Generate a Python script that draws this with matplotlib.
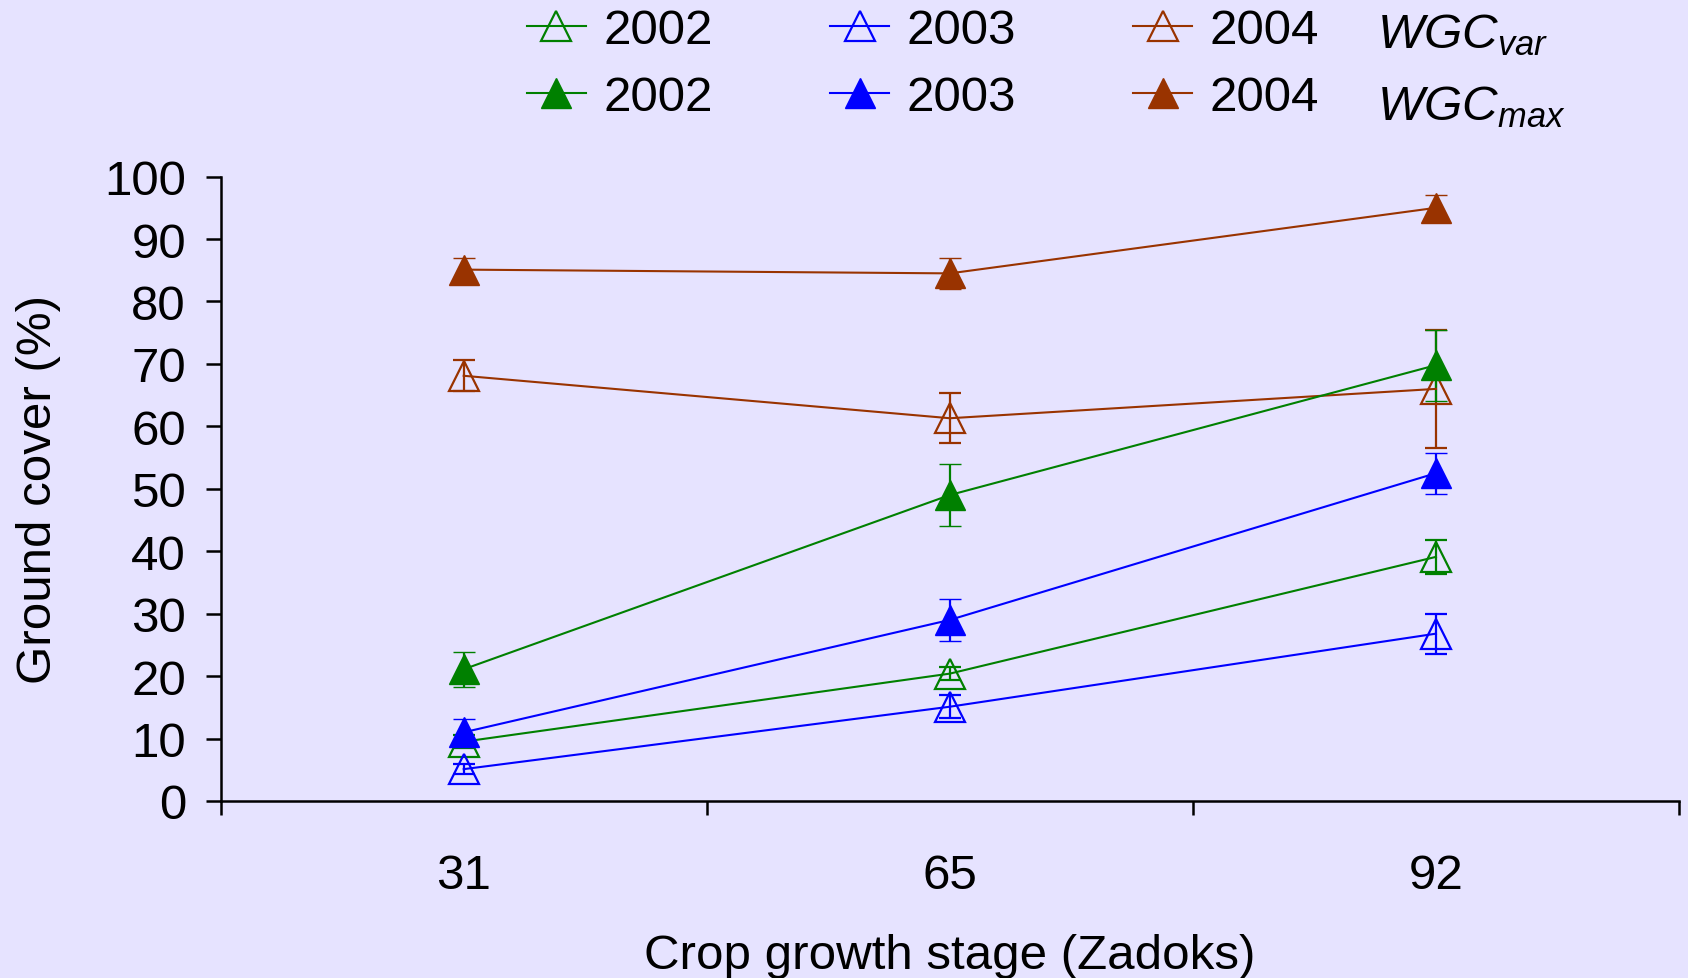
import matplotlib
matplotlib.use("Agg")
import matplotlib.pyplot as plt
from matplotlib.lines import Line2D

plt.rcParams['font.family'] = ['Liberation Sans', 'DejaVu Sans']
plt.rcParams['mathtext.fontset'] = 'custom'
plt.rcParams['mathtext.it'] = 'Liberation Sans:italic'
plt.rcParams['mathtext.rm'] = 'Liberation Sans'

# ---- data ----
stages = ['31', '65', '92']
years = ['2002', '2003', '2004']
colors = ['#008000', '#0000FF', '#993300']

var_2002 = [9.5, 20.4, 39.1]
var_2003 = [5.1, 15.1, 26.8]
var_2004 = [68.1, 61.3, 66.0]
max_2002 = [21.1, 49.0, 69.8]
max_2003 = [11.0, 29.0, 52.5]
max_2004 = [85.1, 84.5, 95.0]

err_var_2002 = [1.0, 1.0, 2.7]
err_var_2003 = [0.8, 1.8, 3.2]
err_var_2004 = [2.5, 4.0, 9.5]
err_max_2002 = [2.8, 5.0, 5.7]
err_max_2003 = [2.2, 3.3, 3.3]
err_max_2004 = [1.8, 2.5, 2.0]

yticks = [0, 10, 20, 30, 40, 50, 60, 70, 80, 90, 100]

BG = '#E6E3FF'
FS = 35.5

fig = plt.figure(figsize=(16.88, 9.79), dpi=100, facecolor=BG)
ax = fig.add_axes([0.1307, 0.1808, 0.864, 0.6378])
ax.set_facecolor(BG)

x = list(range(len(stages)))
ms = 21
lw = 1.5

var_series = [(var_2002, err_var_2002), (var_2003, err_var_2003), (var_2004, err_var_2004)]
max_series = [(max_2002, err_max_2002), (max_2003, err_max_2003), (max_2004, err_max_2004)]

for (vals, errs), c in zip(var_series, colors):
    ax.errorbar(x, vals, yerr=errs, color=c, lw=lw, marker='^', ms=ms,
                mfc='none', mec=c, mew=1.6, ecolor=c, elinewidth=1.6,
                capsize=8, capthick=1.6, clip_on=False)
for (vals, errs), c in zip(max_series, colors):
    ax.errorbar(x, vals, yerr=errs, color=c, lw=lw, marker='^', ms=ms,
                mfc=c, mec=c, mew=1.0, ecolor=c, elinewidth=1.6,
                capsize=8, capthick=1.6, clip_on=False)

ax.set_xlim(-0.5, 2.5)
ax.set_ylim(0, 100)
ax.set_yticks(yticks)
ax.set_yticklabels([str(v) for v in yticks], fontsize=FS)
ax.set_xticks([-0.5, 0.5, 1.5, 2.5])
ax.set_xticklabels([])
ax.set_xticks(x, minor=True)
ax.set_xticklabels(stages, minor=True, fontsize=FS)
ax.tick_params(axis='x', which='major', direction='out', length=10, width=1.8, color='black')
ax.tick_params(axis='x', which='minor', length=0, pad=37.5)
ax.tick_params(axis='y', direction='out', length=11, width=1.8, pad=14)

for s in ['top', 'right']:
    ax.spines[s].set_visible(False)
for s in ['left', 'bottom']:
    ax.spines[s].set_linewidth(1.8)
    ax.spines[s].set_color('black')

ax.set_xlabel('Crop growth stage (Zadoks)', fontsize=FS)
ax.xaxis.label.set_va('center')
ax.xaxis.set_label_coords(0.5, -0.247)
ax.set_ylabel('Ground cover (%)', fontsize=FS)
ax.yaxis.label.set_va('center')
ax.yaxis.set_label_coords(-0.125, 0.5)

# legend
handles = []
labels = []
for c, y in zip(colors, years):
    handles.append(Line2D([], [], color=c, lw=lw, marker='^', ms=ms, mfc='none', mec=c, mew=1.6))
    labels.append(y)
    handles.append(Line2D([], [], color=c, lw=lw, marker='^', ms=ms, mfc=c, mec=c, mew=1.0))
    labels.append(y)
leg = fig.legend(handles, labels, ncol=3, loc='upper left', bbox_to_anchor=(0.312, 0.991),
                 frameon=False, fontsize=FS, handlelength=1.2, handletextpad=0.35,
                 columnspacing=2.38, labelspacing=0.46, borderpad=0, borderaxespad=0)

fig.text(0.8158, 0.9507, r'$\mathit{WGC}_{\mathit{var}}$', fontsize=FS, va='baseline', ha='left')
fig.text(0.8158, 0.877, r'$\mathit{WGC}_{\mathit{max}}$', fontsize=FS, va='baseline', ha='left')

fig.savefig('out.png', dpi=100, facecolor=BG)
